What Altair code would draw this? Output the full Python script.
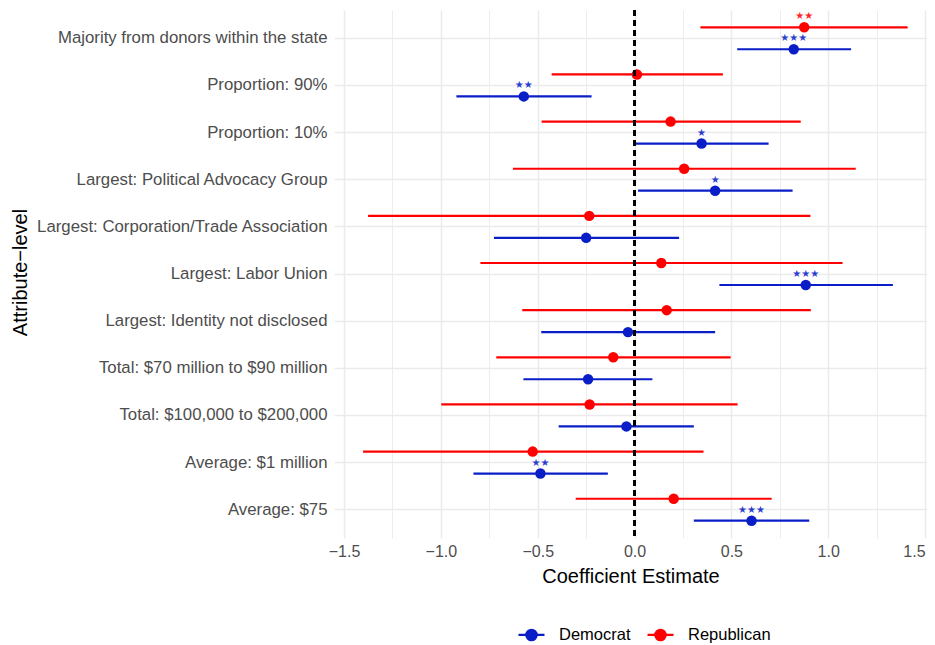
import altair as alt
import pandas as pd

attributes = [
    "Majority from donors within the state",
    "Proportion: 90%",
    "Proportion: 10%",
    "Largest: Political Advocacy Group",
    "Largest: Corporation/Trade Association",
    "Largest: Labor Union",
    "Largest: Identity not disclosed",
    "Total: $70 million to $90 million",
    "Total: $100,000 to $200,000",
    "Average: $1 million",
    "Average: $75",
]

dem_est = [0.822, -0.572, 0.346, 0.416, -0.25, 0.884, -0.034, -0.24, -0.042, -0.486, 0.604]
dem_lo = [0.53, -0.92, 0.004, 0.018, -0.726, 0.438, -0.482, -0.574, -0.392, -0.832, 0.306]
dem_hi = [1.118, -0.222, 0.692, 0.816, 0.23, 1.334, 0.416, 0.092, 0.306, -0.138, 0.902]
dem_sig = ["***", "**", "*", "*", "", "***", "", "", "", "**", "***"]

rep_est = [0.876, 0.012, 0.186, 0.256, -0.234, 0.138, 0.166, -0.11, -0.232, -0.526, 0.202]
rep_lo = [0.34, -0.428, -0.48, -0.628, -1.376, -0.796, -0.58, -0.714, -0.998, -1.402, -0.304]
rep_hi = [1.41, 0.456, 0.858, 1.142, 0.908, 1.074, 0.91, 0.496, 0.532, 0.356, 0.708]
rep_sig = ["**", "", "", "", "", "", "", "", "", "", ""]

parties = ["Democrat", "Republican"]
party_colors = ["#0a1ec8", "#ff0000"]
x_grid = [-1.5, -1.25, -1.0, -0.75, -0.5, -0.25, 0.0, 0.25, 0.5, 0.75, 1.0, 1.25, 1.5]

rows = []
for party, est, lo, hi, sig in [
    ("Democrat", dem_est, dem_lo, dem_hi, dem_sig),
    ("Republican", rep_est, rep_lo, rep_hi, rep_sig),
]:
    for a, e, l, h, s in zip(attributes, est, lo, hi, sig):
        rows.append({"attribute": a, "party": party, "est": e, "lo": l, "hi": h,
                     "stars": s.replace("*", "\u2605")})
df = pd.DataFrame(rows)

FONT = "Liberation Sans"

y_enc = alt.Y(
    "attribute:N",
    sort=attributes,
    scale=alt.Scale(type="band", paddingInner=0, paddingOuter=0.1),
    axis=alt.Axis(
        title="Attribute\u2212level",
        titleFontSize=20,
        titleFontWeight="normal",
        titleColor="black",
        titleFont=FONT,
        titleX=-314,
        titleY=262,
        titleAngle=-90,
        titleAlign="center",
        titleBaseline="middle",
        labelFont=FONT,
        labelFontSize=16.8,
        labelColor="#4d4d4d",
        labelPadding=7,
        ticks=False,
        domain=False,
        grid=True,
        gridColor="#ebebeb",
        gridWidth=1.5,
        bandPosition=0.5,
        labelLimit=400,
    ),
)
yoff = alt.YOffset(
    "party:N",
    sort=["Republican", "Democrat"],
    scale=alt.Scale(paddingInner=0, paddingOuter=0.073),
)
color_enc = alt.Color(
    "party:N",
    scale=alt.Scale(domain=parties, range=party_colors),
    legend=alt.Legend(
        title=None,
        orient="none",
        legendX=183,
        legendY=610,
        direction="horizontal",
        symbolType="M-1,0L1,0M-0.4,0A0.4,0.4,0,1,0,0.4,0A0.4,0.4,0,1,0,-0.4,0Z",
        symbolSize=676,
        symbolStrokeWidth=2.2,
        labelFont=FONT,
        labelFontSize=16.5,
        labelColor="black",
        labelOffset=13,
        columnPadding=12,
    ),
)

x_scale = alt.Scale(domain=[-1.552, 1.51], nice=False, zero=False)
x_axis = alt.Axis(
    title="Coefficient Estimate",
    titleFont=FONT,
    titleFontSize=20,
    titleFontWeight="normal",
    titleColor="black",
    titlePadding=7,
    values=x_grid,
    labelExpr="abs(datum.value % 0.5) < 1e-6 ? replace(format(datum.value, '.1f'), '-', '\u2212') : ''",
    labelFont=FONT,
    labelFontSize=16,
    labelColor="#4d4d4d",
    labelPadding=5,
    labelFlush=3,
    ticks=False,
    domain=False,
    grid=True,
    gridColor="#ebebeb",
    gridWidth={"condition": {"test": "abs(datum.value % 0.5) < 1e-6", "value": 1.5}, "value": 0.9},
)

base = alt.Chart(df)

bars = base.mark_rule(strokeWidth=2.2).encode(
    x=alt.X("lo:Q", scale=x_scale, axis=x_axis),
    x2="hi:Q",
    y=y_enc,
    yOffset=yoff,
    color=color_enc,
)
points = base.mark_point(filled=True, size=110, opacity=1).encode(
    x=alt.X("est:Q", scale=x_scale),
    y=y_enc,
    yOffset=yoff,
    color=color_enc,
)
stars = base.mark_text(font="DejaVu Sans", fontSize=10, baseline="middle", dy=-11, opacity=0.85).encode(
    x=alt.X("est:Q", scale=x_scale),
    y=y_enc,
    yOffset=yoff,
    text="stars:N",
    color=alt.Color("party:N", scale=alt.Scale(domain=parties, range=party_colors), legend=None),
)
zero = alt.Chart(df).mark_rule(color="black", strokeDash=[6, 4], strokeWidth=1.4).encode(
    x=alt.datum(0, scale=x_scale)
)

chart = (
    alt.layer(bars, points, stars, zero)
    .properties(
        width=593,
        height=528,
        padding={"left": 326, "top": 2, "right": 0, "bottom": 107},
        autosize=alt.AutoSizeParams(type="none"),
        background="white",
    )
    .configure_view(stroke=None)
)

chart.save("out.html", embed_options={"renderer": "svg", "actions": False})
